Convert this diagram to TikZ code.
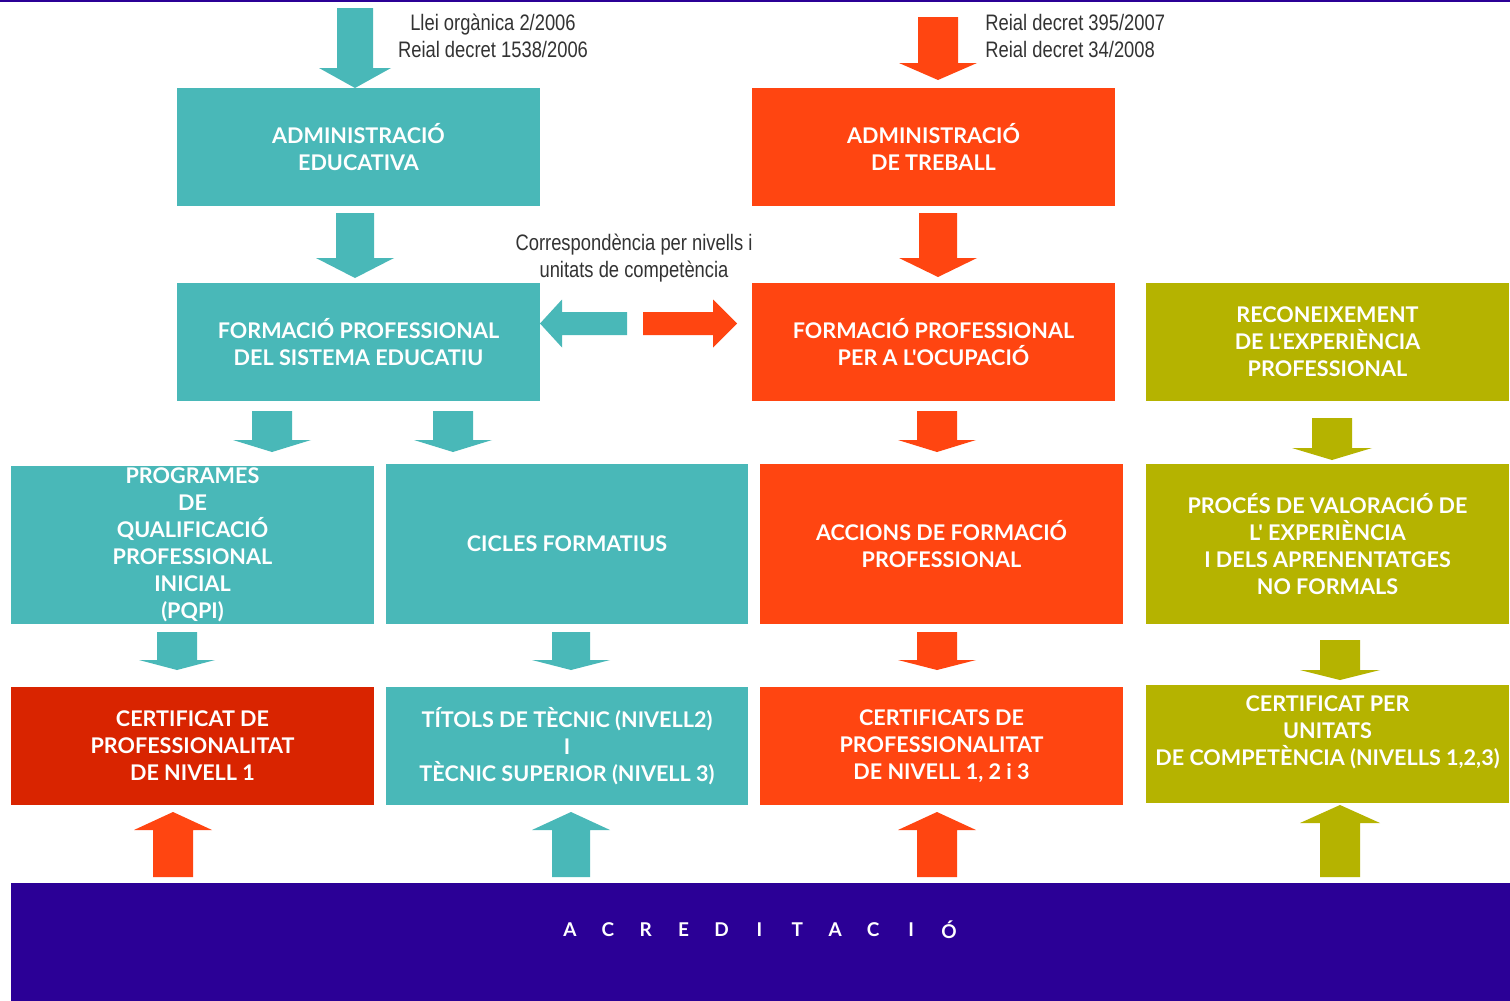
\documentclass[tikz,border=0pt]{standalone}
\usepackage{fontspec}
\setmainfont{Lato}
\newfontfamily\narrowfont{Liberation Sans}[FakeStretch=0.82]
\newfontfamily\boxfont{Lato}
\definecolor{cteal}{HTML}{49B8B8}
\definecolor{corange}{HTML}{FF4511}
\definecolor{cred}{HTML}{D92400}
\definecolor{colive}{HTML}{B5B300}
\definecolor{cpurple}{HTML}{2B0096}
\definecolor{ctext}{HTML}{333333}
% down/up block arrow: style, x, ybase, yhead, ytip, half shaft, half head
\newcommand\DArr[7]{\fill[#1] (#2-#6,#3) -- (#2+#6,#3) -- (#2+#6,#4) -- (#2+#7,#4) -- (#2,#5) -- (#2-#7,#4) -- (#2-#6,#4) -- cycle;}
% horizontal block arrow: style, y, xbase, xhead, xtip, half shaft, half head
\newcommand\HArr[7]{\fill[#1] (#3,#2-#6) -- (#3,#2+#6) -- (#4,#2+#6) -- (#4,#2+#7) -- (#5,#2) -- (#4,#2-#7) -- (#4,#2-#6) -- cycle;}
\begin{document}
\begin{tikzpicture}[x=0.5pt,y=-0.5pt,
  box/.style={minimum width=181.5pt, minimum height=59pt, inner sep=0pt, text=white, align=center,
    font=\boxfont\bfseries\fontsize{10.8}{13.5}\selectfont},
  tealbox/.style={box, fill=cteal},
  orangebox/.style={box, fill=corange},
  redbox/.style={box, fill=cred},
  olivebox/.style={box, fill=colive},
  note/.style={text=ctext, align=center, inner sep=0pt, font=\narrowfont\fontsize{11.2}{13.5}\selectfont},
  acrletter/.style={text=white, inner sep=0pt, font=\boxfont\bfseries\fontsize{9.5}{11}\selectfont},
  tealfill/.style={fill=cteal},
  orangefill/.style={fill=corange},
  olivefill/.style={fill=colive}
]
\fill[white] (0,0) rectangle (1510,1001);
\useasboundingbox (0,0) rectangle (1510,1001);
\draw[cpurple, line width=1pt] (0,1) -- (1510,1);

% boxes
\node[tealbox] (edu) at (358.5,147) {ADMINISTRACIÓ\\EDUCATIVA};
\node[orangebox] (treb) at (933.5,147) {ADMINISTRACIÓ\\DE TREBALL};
\node[tealbox] (fpedu) at (358.5,342) {FORMACIÓ PROFESSIONAL\\DEL SISTEMA EDUCATIU};
\node[orangebox] (fpocu) at (933.5,342) {FORMACIÓ PROFESSIONAL\\PER A  L'OCUPACIÓ};
\node[olivebox] (recon) at (1327.5,342) {RECONEIXEMENT\\DE L'EXPERIÈNCIA\\PROFESSIONAL};
\node[tealbox, minimum height=79pt] (pqpi) at (192.5,545) {PROGRAMES\\DE\\QUALIFICACIÓ\\PROFESSIONAL\\INICIAL\\(PQPI)};
\node[tealbox, minimum width=181pt, minimum height=80pt] (cicles) at (567,544) {CICLES FORMATIUS};
\node[orangebox, minimum height=80pt] (accions) at (941.5,544) {ACCIONS DE FORMACIÓ\\PROFESSIONAL};
\node[olivebox, minimum height=80pt] (proces) at (1327.5,544) {PROCÉS DE VALORACIÓ DE\\L' EXPERIÈNCIA\\I DELS APRENENTATGES\\NO FORMALS};
\node[redbox] (cert1) at (192.5,746) {CERTIFICAT DE\\PROFESSIONALITAT\\DE NIVELL 1};
\node[tealbox, minimum width=181pt] (titols) at (567,746) {TÍTOLS DE TÈCNIC (NIVELL2)\\I\\TÈCNIC SUPERIOR (NIVELL 3)};
\node[orangebox] (certs) at (941.5,746) {CERTIFICATS DE\\PROFESSIONALITAT\\DE NIVELL 1, 2 i 3};
\node[olivebox] (certu) at (1327.5,744) {CERTIFICAT PER\\UNITATS\\DE  COMPETÈNCIA (NIVELLS 1,2,3)\\\mbox{}};
\node[box, fill=cpurple, minimum width=749.5pt] (acr) at (760.5,942) {};
\foreach \L [count=\i from 0] in {A,C,R,E,D,I,T,A,C,I,Ó}
  \node[acrletter] (acr\i) at (570+37.9*\i,930) {\L};

% notes
\node[note] (lleis1) at (493,36) {Llei orgànica 2/2006\\Reial decret 1538/2006};
\node[note, align=left, anchor=west] (lleis2) at (985,36) {Reial decret 395/2007\\Reial decret 34/2008};
\node[note] (corr) at (634,258) {Correspondència per nivells i\\unitats de competència};

% arrows
\DArr{tealfill}{355}{8}{68}{88}{18}{36}
\DArr{orangefill}{938}{17}{63}{80}{20}{39}
\DArr{tealfill}{355}{213}{258}{278}{19}{39}
\DArr{orangefill}{938}{213}{258}{277}{19}{39}
\DArr{tealfill}{272}{411}{440}{452}{20}{39}
\DArr{tealfill}{453}{411}{440}{452}{20}{39}
\DArr{orangefill}{937}{411}{440}{452}{20}{39}
\DArr{olivefill}{1332}{418}{448}{460}{20}{40}
\DArr{tealfill}{177}{632}{660}{670}{20}{38}
\DArr{tealfill}{571}{632}{660}{670}{19}{39}
\DArr{orangefill}{937}{632}{660}{670}{20}{39}
\DArr{olivefill}{1340}{640}{670}{680}{20}{40}
\DArr{orangefill}{173}{877}{830}{812}{20}{39}
\DArr{tealfill}{571}{877}{830}{812}{19}{39}
\DArr{orangefill}{937}{877}{830}{812}{20}{39}
\DArr{olivefill}{1340}{877}{823}{805}{20}{40}
\HArr{tealfill}{323.5}{627}{562}{540}{11.5}{24}
\HArr{orangefill}{323.5}{643}{713}{737}{11.5}{24}
\end{tikzpicture}
\end{document}
